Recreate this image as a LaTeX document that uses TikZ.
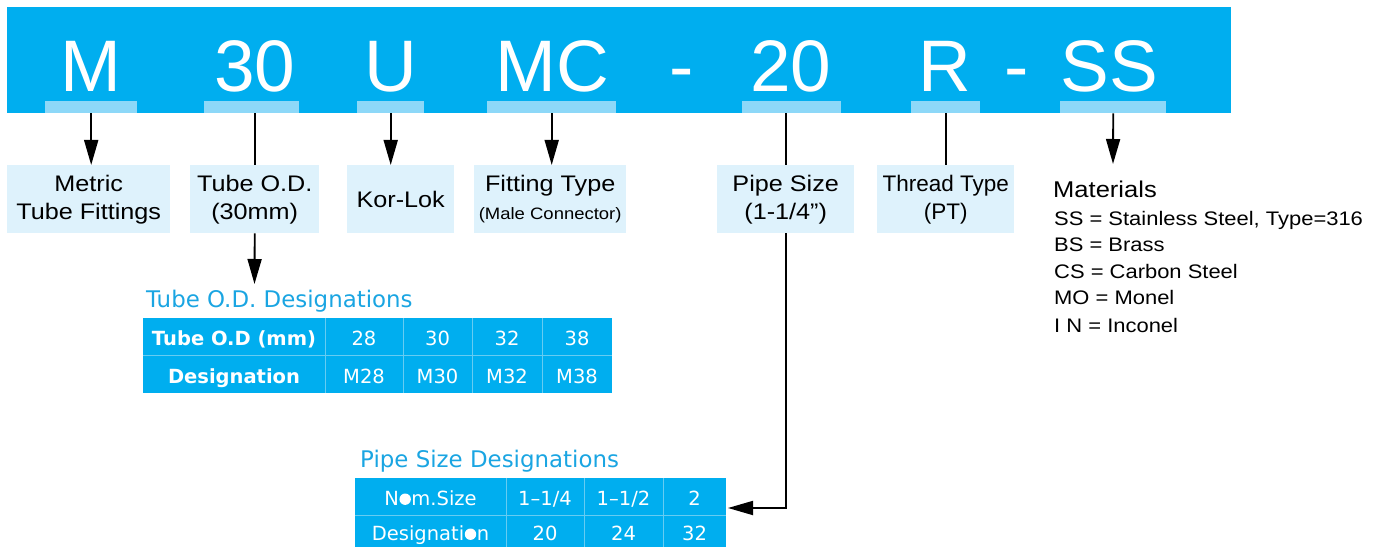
\documentclass[tikz,border=0pt]{standalone}
\usepackage{fontspec}
\setmainfont{Liberation Sans}
\newfontfamily\wide{Liberation Sans}[FakeStretch=1.12]
\newfontfamily\dv{DejaVu Sans}
\usetikzlibrary{arrows.meta}
\definecolor{cyanbg}{HTML}{00AEEF}
\definecolor{barblue}{HTML}{8DD8F8}
\definecolor{boxblue}{HTML}{DEF2FC}
\definecolor{gridblue}{HTML}{66CCF2}
\definecolor{titleblue}{HTML}{1AA5E2}
\newcommand\fakeo{\tikz[baseline=0pt]{\path (0pt,0pt) -- (12.6pt,0pt); \fill[white] (6.3pt,5.8pt) circle [radius=5.7pt];}}
\begin{document}
\begin{tikzpicture}[x=1pt,y=-1pt,
  banner/.style={fill=cyanbg, inner sep=0, anchor=north west},
  bar/.style={fill=barblue, inner sep=0, minimum height=12, anchor=north west},
  code/.style={text=white, font=\rmfamily\fontsize{73}{73}\selectfont, anchor=base, inner sep=0},
  box/.style={fill=boxblue, inner sep=0, minimum height=68, anchor=north west, align=center, font=\wide\fontsize{22.5}{28}\selectfont},
  link/.style={line width=1.8},
  arr/.style={link, -{Triangle[width=14pt,length=25pt]}},
  mat/.style={anchor=base west, inner sep=0, font=\wide\fontsize{19.6}{19.6}\selectfont},
  tbl/.style={fill=cyanbg, inner sep=0, anchor=north west},
  gridl/.style={draw=gridblue, line width=1},
  cell/.style={text=white, anchor=base, inner sep=0, font=\dv\fontsize{19.5}{19.5}\selectfont},
  hcell/.style={cell, font=\dv\bfseries\fontsize{19.5}{19.5}\selectfont},
  ttl/.style={text=titleblue, anchor=base west, inner sep=0, font=\dv\fontsize{22.9}{22.9}\selectfont},
]
\useasboundingbox (0,0) rectangle (1382,548);

% banner
\node[banner, minimum width=1224, minimum height=106] (banner) at (7,7) {};
\node[bar, minimum width=92]  (barM)  at (45,101) {};
\node[bar, minimum width=95]  (bar30) at (204,101) {};
\node[bar, minimum width=67]  (barU)  at (357,101) {};
\node[bar, minimum width=129] (barMC) at (487,101) {};
\node[bar, minimum width=99]  (bar20) at (742,101) {};
\node[bar, minimum width=69]  (barR)  at (911,101) {};
\node[bar, minimum width=106] (barSS) at (1060,101) {};

\node[code] (cM)  at (91,92) {M};
\node[code] (c30) at (255,92) {30};
\node[code] (cU)  at (391,92) {U};
\node[code] (cMC) at (552,92) {MC};
\node[code] (cd1) at (682,92) {-};
\node[code] (c20) at (791,92) {20};
\node[code] (cR)  at (945,92) {R};
\node[code] (cd2) at (1017,92) {-};
\node[code] (cSS) at (1109,92) {SS};

% boxes
\node[box, minimum width=163] (boxM) at (7,165) {Metric\\Tube Fittings};
\node[box, minimum width=129] (box30) at (190,165) {Tube O.D.\\(30mm)};
\node[box, minimum width=107] (boxU) at (347,165) {Kor-Lok};
\node[box, minimum width=152] (boxMC) at (474,165) {Fitting Type\\{\fontsize{16.5}{20}\selectfont(Male Connector)}};
\node[box, minimum width=137] (boxPipe) at (717,165) {Pipe Size\\(1-1/4”)};
\node[box, minimum width=137, font=\rmfamily\fontsize{22.5}{28}\selectfont] (boxThread) at (877,165) {Thread Type\\(PT)};

% materials
\node[mat, font=\wide\fontsize{22.8}{22.8}\selectfont] (matHead) at (1053,198) {Materials};
\node[mat] (mat1) at (1054,226) {SS = Stainless Steel, Type=316};
\node[mat] (mat2) at (1054,252) {BS = Brass};
\node[mat] (mat3) at (1054,279) {CS = Carbon Steel};
\node[mat] (mat4) at (1054,305) {MO = Monel};
\node[mat] (mat5) at (1054,332) {I N = Inconel};

% connectors from code
\draw[arr] (barM.south) -- (barM.south |- boxM.north);
\draw[link] (box30.north |- bar30.south) -- (box30.north);
\draw[arr] (barU.south) -- (barU.south |- boxU.north);
\draw[arr] (barMC.south) -- (barMC.south |- boxMC.north);
\draw[link] (boxPipe.north |- bar20.south) -- (boxPipe.north);
\draw[link] (barR.south) -- (boxThread.north);
\coordinate (matTip) at (1113,164);
\draw[arr] (barSS.south) -- (matTip);

% tube OD table
\node[ttl] (odTitle) at (146,307) {Tube O.D. Designations};
\coordinate (odTip) at (254.5,284);
\draw[arr] (box30.south) -- (odTip);
\node[tbl, minimum width=469, minimum height=75] (odTab) at (143,318) {};
\draw[gridl] (143,355) -- (612,355);
\foreach \xx in {325,403,472,542} \draw[gridl] (\xx,318) -- (\xx,393);
\node[hcell] (od11) at (234,345) {Tube O.D (mm)};
\node[cell] (od12) at (364,345) {28};
\node[cell] (od13) at (437.5,345) {30};
\node[cell] (od14) at (507,345) {32};
\node[cell] (od15) at (577,345) {38};
\node[hcell] (od21) at (234,383) {Designation};
\node[cell] (od22) at (364,383) {M28};
\node[cell] (od23) at (437.5,383) {M30};
\node[cell] (od24) at (507,383) {M32};
\node[cell] (od25) at (577,383) {M38};

% pipe table
\node[ttl] (psTitle) at (360,467) {Pipe Size Designations};
\node[tbl, minimum width=371, minimum height=69] (psTab) at (355,478) {};
\draw[gridl] (355,515) -- (726,515);
\foreach \xx in {506,584,663} \draw[gridl] (\xx,478) -- (\xx,547);
\node[cell] (ps11) at (430.5,505) {N\fakeo m.Size};
\node[cell] (ps12) at (545,505) {1–1/4};
\node[cell] (ps13) at (623.5,505) {1–1/2};
\node[cell] (ps14) at (694.5,505) {2};
\node[cell] (ps21) at (430.5,540) {Designati\fakeo n};
\node[cell] (ps22) at (545,540) {20};
\node[cell] (ps23) at (623.5,540) {24};
\node[cell] (ps24) at (694.5,540) {32};

\coordinate (psTip) at (728,508);
\draw[arr] (boxPipe.south) |- (psTip);
\end{tikzpicture}
\end{document}
